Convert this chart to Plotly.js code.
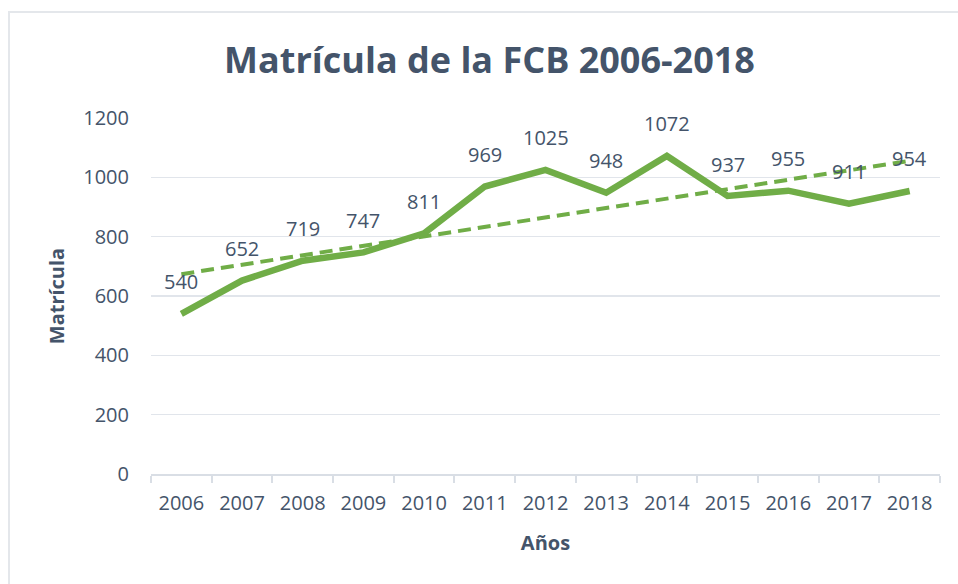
<!DOCTYPE html>
<html>
<head>
<meta charset="utf-8">
<script src="https://cdn.plot.ly/plotly-3.0.1.min.js"></script>
<style>
  html, body { margin: 0; padding: 0; background: #ffffff; overflow: hidden; }
  #frame { position: absolute; left: 8px; top: 11px; width: 1000px; height: 700px; border: 2px solid #E4E7EB; box-sizing: border-box; }
  #chart { position: absolute; left: 0; top: 0; width: 958px; height: 584px; }
</style>
</head>
<body>
<div id="frame"></div>
<div id="chart"></div>
<script>
const years = ["2006","2007","2008","2009","2010","2011","2012","2013","2014","2015","2016","2017","2018"];
const matricula = [540, 652, 719, 747, 811, 969, 1025, 948, 1072, 937, 955, 911, 954];
const yTicks = [0, 200, 400, 600, 800, 1000, 1200];

// Linear trendline (least squares), as in the spreadsheet chart
const n = matricula.length;
const xs = matricula.map((_, i) => i);
const mx = xs.reduce((a, b) => a + b, 0) / n;
const my = matricula.reduce((a, b) => a + b, 0) / n;
let sxy = 0, sxx = 0;
for (let i = 0; i < n; i++) { sxy += (xs[i] - mx) * (matricula[i] - my); sxx += (xs[i] - mx) ** 2; }
const slope = sxy / sxx, intercept = my - slope * mx;
const trend = xs.map(x => intercept + slope * x);

const green = "#70AD47";
const textColor = "#44546A";
const font = "Open Sans, sans-serif";

const traces = [
  { x: years, y: trend, type: "scatter", mode: "lines",
    line: { color: green, width: 4, dash: "13px,7px" }, hoverinfo: "skip" },
  { x: years, y: matricula, type: "scatter", mode: "lines",
    line: { color: green, width: 6.5 } }
];

const annotations = years.map((yr, i) => ({
  x: i, y: matricula[i], xref: "x", yref: "y", text: String(matricula[i]),
  showarrow: false, yshift: 32, font: { family: font, size: 20, color: textColor }
}));

const layout = {
  width: 958, height: 584,
  paper_bgcolor: "rgba(0,0,0,0)", plot_bgcolor: "rgba(0,0,0,0)",
  margin: { l: 151, r: 18, t: 118, b: 110 },
  showlegend: false,
  title: { text: "<b>Matrícula de la FCB 2006-2018</b>", xref: "container", x: 0.511, xanchor: "center",
           yref: "container", y: 0.897, yanchor: "middle",
           font: { family: font, size: 36, color: textColor } },
  xaxis: {
    type: "category", range: [-0.5, 12.5], showgrid: false,
    showline: true, linecolor: "#D9DEE5", linewidth: 2,
    ticks: "outside", tickson: "boundaries", ticklen: 7, tickcolor: "#D9DEE5", tickwidth: 2,
    ticklabelstandoff: 10,
    tickfont: { family: font, size: 20, color: textColor },
    title: { text: "<b>Años</b>", font: { family: font, size: 20, color: textColor }, standoff: 21 },
    zeroline: false
  },
  yaxis: {
    range: [0, 1200], tickvals: yTicks, ticktext: yTicks.map(String),
    showgrid: true, gridcolor: "#E1E5EB", gridwidth: 1.5,
    showline: false, zeroline: false, ticks: "",
    ticklabelstandoff: 21,
    tickfont: { family: font, size: 20, color: textColor },
    title: { text: "<b>Matrícula</b>", font: { family: font, size: 20, color: textColor }, standoff: 13 }
  },
  annotations: annotations
};

Plotly.newPlot("chart", traces, layout, { displayModeBar: false, staticPlot: true });
</script>
</body>
</html>
